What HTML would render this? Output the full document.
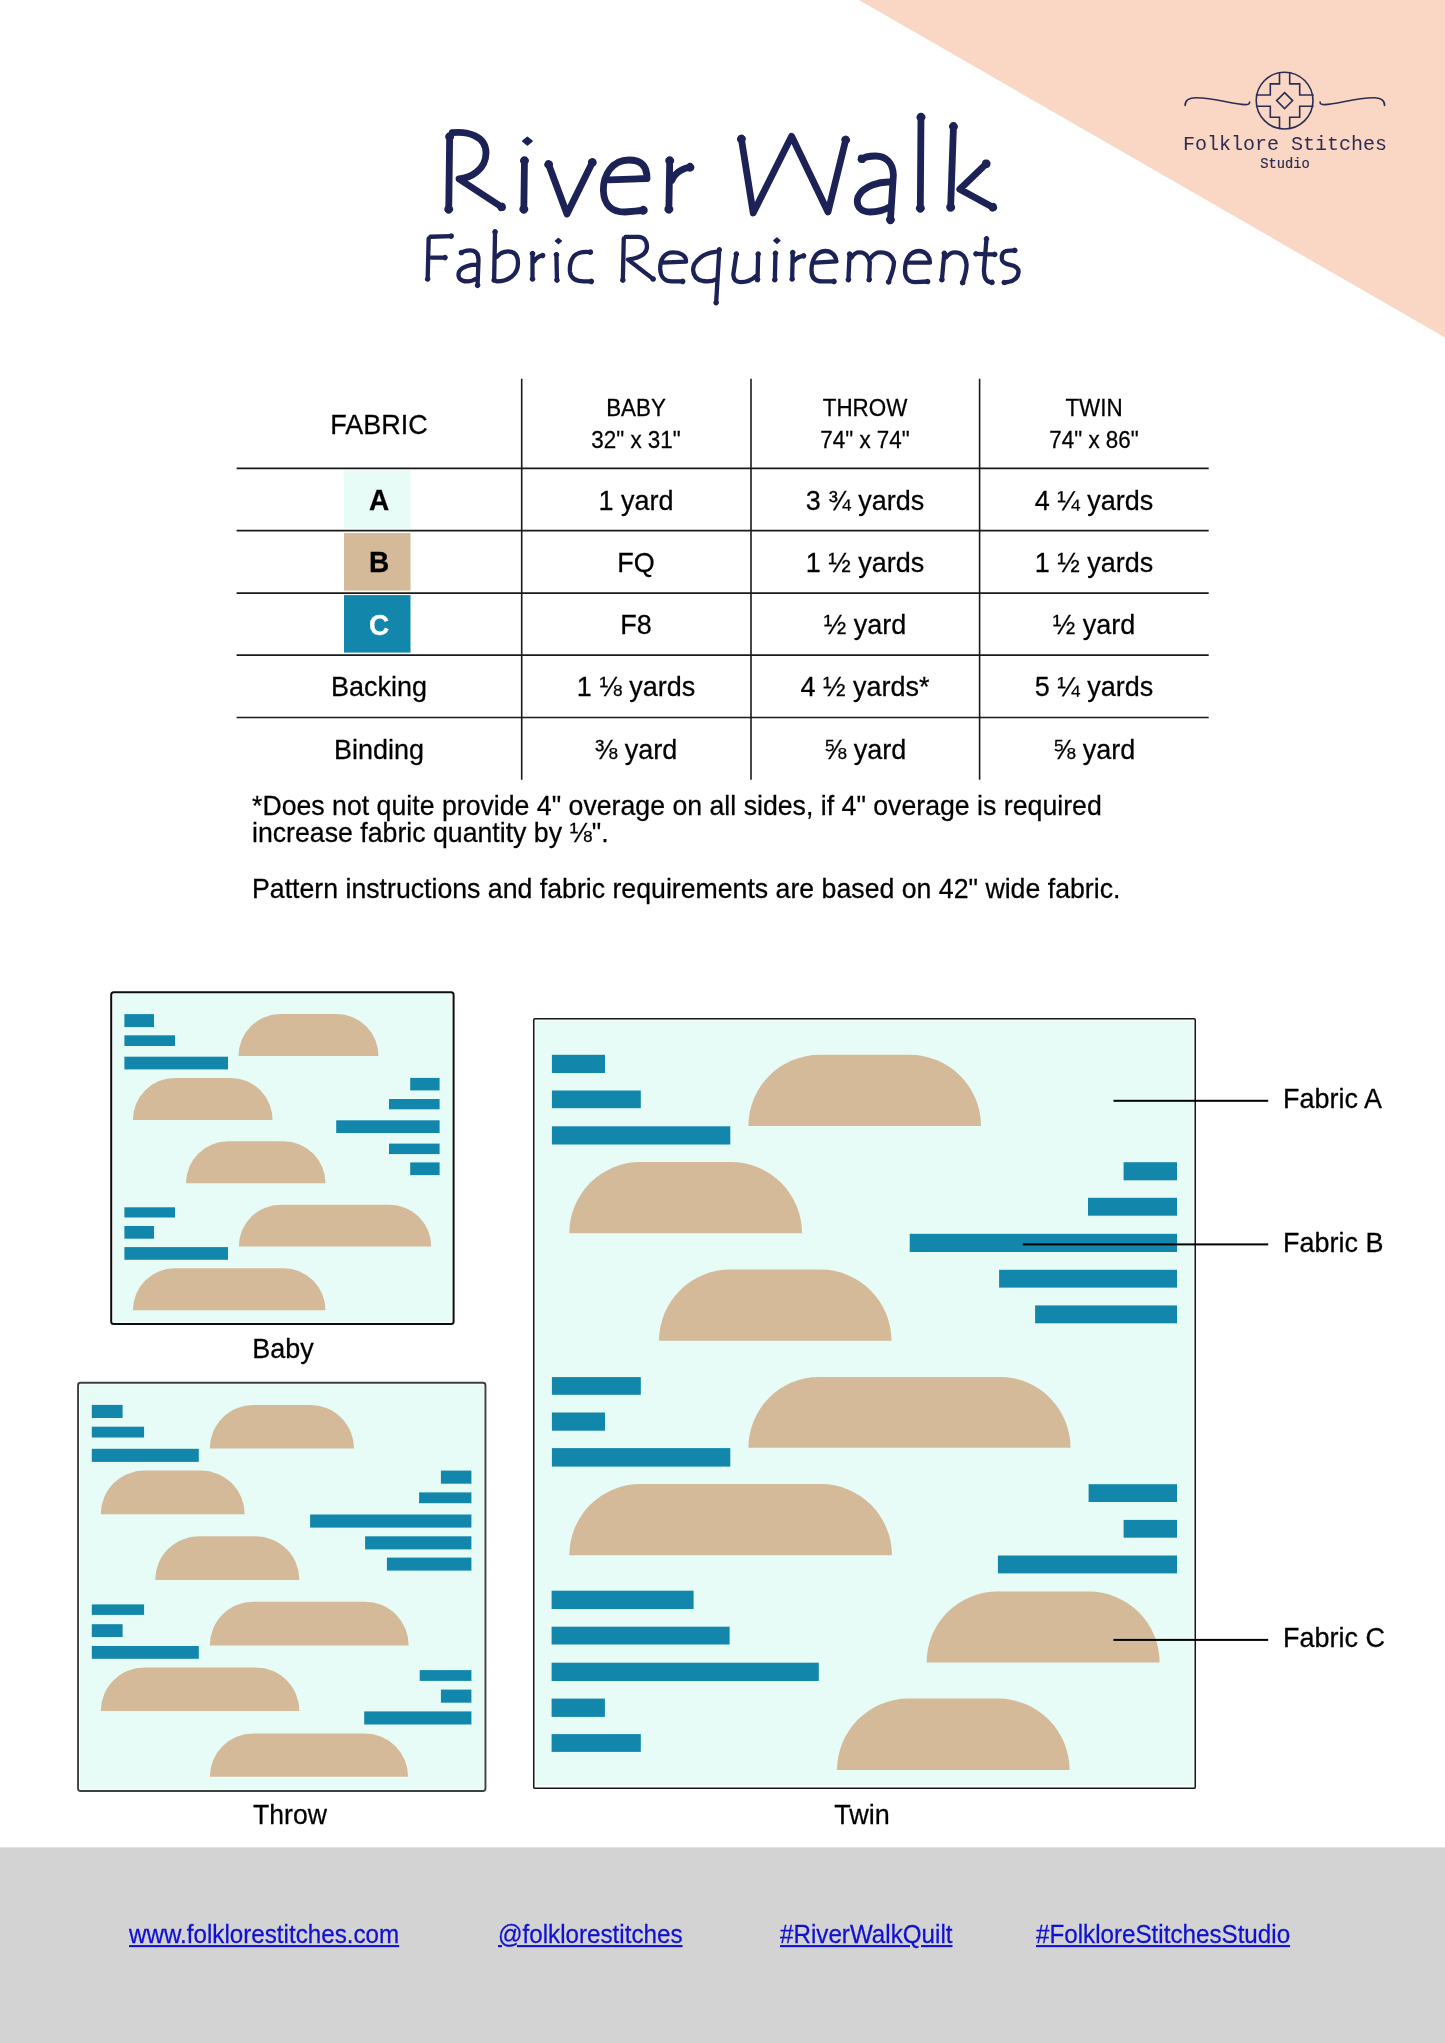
<!DOCTYPE html><html><head><meta charset="utf-8"><title>River Walk Fabric Requirements</title>
<style>html,body{margin:0;padding:0;background:#fff;}body{width:1445px;height:2043px;position:relative;overflow:hidden;}
div{will-change:transform;}
a{color:inherit;text-decoration:underline;}</style></head><body>
<svg style="position:absolute;left:0;top:0" width="1445" height="400"><polygon points="859,0 1445,0 1445,337.5" fill="#fad6c5"/></svg>
<svg style="position:absolute;left:1170px;top:60px" width="230" height="80" viewBox="0 0 230 80">
<g fill="none" stroke="#2b2e52" stroke-width="1.6" stroke-linecap="round" stroke-linejoin="miter">
<circle cx="114.6" cy="40.6" r="28.4"/>
<path d="M109.5 12.7 V23.9 H100.3 V35 H86.6 M119.7 12.7 V23.9 H129.7 V35 H143 M109.5 68.5 V57.3 H100.3 V46.2 H86.6 M119.7 68.5 V57.3 H129.7 V46.2 H143"/>
<path d="M114.6 32.6 L122.6 40.6 L114.6 48.6 L106.6 40.6 Z"/>
<path d="M15.1 45.4 C15 40 20 37.5 26 37.7 C45 38 62 44 75 44.6 C78 44.7 79.8 44 79.6 42"/>
<path d="M214.6 45.4 C214.7 40 209.7 37.5 203.7 37.7 C184.7 38 167.7 44 154.7 44.6 C151.7 44.7 149.9 44 150.1 42"/>
</g></svg>
<div style="position:absolute;top:135.20px;font-family:'Liberation Mono',monospace;font-size:20px;line-height:20px;font-weight:400;color:#2b2e52;white-space:pre;left:884.80px;width:800px;text-align:center;">Folklore Stitches</div>
<div style="position:absolute;top:158.47px;font-family:'Liberation Mono',monospace;font-size:13.8px;line-height:13.8px;font-weight:400;color:#2b2e52;white-space:pre;-webkit-text-stroke:0.2px #2b2e52;left:884.60px;width:800px;text-align:center;">Studio</div>
<svg style="position:absolute;left:0;top:0" width="1445" height="330"><g fill="none" stroke="#1c2255" stroke-linecap="round" stroke-linejoin="round"><path stroke-width="6.8" d="M449.67,135.72 L448.73,210.28 M452.20,132.71 C468.00,131.00 486.00,136.00 486.00,153.00 C486.00,170.00 470.00,178.00 459.00,179.00 L502.43,207.51 M524.47,159.72 L523.83,210.28 M548.25,163.55 L567.00,214.00 L592.80,161.44 M609.22,179.90 L647.00,178.50 C647.00,165.00 640.00,160.00 629.00,160.00 C612.00,160.00 603.00,175.00 603.40,191.00 C604.00,205.00 612.00,212.00 625.00,212.00 L644.29,210.25 M669.75,159.72 L668.85,210.28 M671.77,180.46 C675.00,172.00 685.00,167.00 690.98,167.34 M741.23,137.99 L753.20,213.00 L791.60,136.30 L828.00,212.00 L845.95,138.94 M861.17,159.43 C864.00,157.00 870.00,156.00 875.70,156.00 C886.00,156.00 893.00,163.00 893.40,175.00 L890.38,220.79 M892.29,182.23 C880.00,181.00 863.00,186.00 858.00,197.00 C855.00,207.00 862.00,212.00 870.00,212.00 C880.00,212.00 888.00,208.00 890.67,206.40 M920.98,116.22 L920.32,209.28 M953.50,125.52 L950.60,208.28 M986.94,163.09 L959.80,189.30 L993.71,207.70"/><path stroke-width="4.3" d="M428.66,238.52 L427.64,279.68 M430.42,236.74 L451.88,236.06 M431.42,257.60 L445.68,257.60 M460.98,253.15 C463.00,251.00 467.00,250.30 470.20,250.30 C476.00,250.30 478.50,254.00 478.50,260.00 L477.56,285.98 M477.78,264.73 C472.00,264.50 462.00,266.00 459.00,272.00 C457.00,278.00 461.00,281.40 467.00,281.40 C472.00,281.40 476.00,279.00 477.08,278.27 M495.07,231.22 L494.13,280.78 M497.07,256.66 C500.00,253.00 504.00,251.30 508.00,251.30 C515.00,251.30 518.00,256.00 518.00,263.00 C518.00,275.00 508.00,281.40 496.72,281.40 M532.50,253.02 L532.50,279.68 M534.31,261.18 C536.00,258.00 540.00,255.50 543.28,255.50 M556.43,254.12 L556.97,280.78 M590.99,252.20 C585.00,251.50 578.00,252.00 574.00,256.00 C570.00,261.00 569.50,267.00 570.00,272.00 C571.00,279.00 577.00,281.40 584.00,281.40 L591.98,281.40 M623.76,238.52 L622.84,280.78 M625.52,236.80 L638.40,236.80 C644.00,237.00 647.00,241.00 647.00,246.50 C647.00,254.00 640.00,258.00 628.00,259.60 L653.64,279.35 M661.92,262.63 L686.10,261.70 C686.00,255.00 680.00,252.40 673.00,252.40 C664.00,252.40 660.00,260.00 660.20,269.00 C660.50,277.00 665.00,281.40 672.00,281.40 L683.38,281.40 M719.30,249.22 L716.10,303.28 M715.69,251.88 C710.00,252.50 704.00,254.00 700.00,258.00 C695.00,262.00 693.00,267.00 693.10,270.00 C693.50,276.00 697.00,280.00 703.00,281.00 C710.00,282.00 715.00,280.00 716.65,278.93 M736.45,253.40 L733.30,274.50 C733.50,280.00 736.00,282.10 741.00,282.10 C748.00,282.10 753.00,279.00 756.28,275.72 M758.16,253.42 L757.54,280.38 M775.46,252.72 L774.84,280.38 M792.76,252.02 L792.14,279.68 M794.40,260.63 C796.00,258.00 801.00,255.80 804.28,255.80 M815.32,262.60 L836.40,261.40 C836.00,255.00 831.00,251.00 825.30,251.00 C816.00,251.00 811.50,260.00 811.50,270.40 C811.50,278.00 815.00,281.40 822.00,281.40 L834.68,281.40 M849.62,253.42 L848.38,280.38 M851.29,257.83 C853.00,255.00 856.00,252.40 859.40,252.40 C865.00,252.40 868.00,255.00 869.80,262.10 L869.16,280.38 M870.83,257.92 C873.00,255.00 876.00,252.40 880.10,252.40 C887.00,252.40 892.00,255.00 894.00,262.10 C894.00,270.00 890.00,278.00 888.38,282.58 M908.12,262.70 L930.00,262.70 C930.00,256.00 925.00,251.00 918.90,251.00 C910.00,251.00 905.00,260.00 905.00,270.40 C905.00,278.00 909.00,282.10 915.00,282.10 L928.28,281.48 M944.35,252.71 L941.85,280.39 M946.26,257.24 C948.00,255.00 951.00,252.40 954.90,252.40 C961.00,252.40 966.00,256.00 966.60,264.80 C966.50,272.00 964.00,279.00 962.40,283.29 M986.56,238.21 L983.90,270.40 C984.00,277.00 986.00,281.40 990.00,282.00 L992.61,282.49 M975.32,253.84 L995.38,254.36 M1015.48,250.37 C1012.00,250.50 1008.00,250.60 1006.10,251.00 C1002.00,252.00 1001.50,256.00 1001.90,259.30 C1002.50,263.00 1006.00,264.00 1010.20,264.80 C1016.00,266.00 1019.00,268.00 1018.50,272.50 C1018.00,278.00 1014.00,281.00 1008.00,282.00 L1003.61,282.58"/></g><g fill="#1c2255"><ellipse transform="translate(449.66,136.74) rotate(-89.3)" rx="3.40" ry="4.49"/><ellipse transform="translate(448.74,209.26) rotate(90.7)" rx="3.40" ry="4.49"/><ellipse transform="translate(501.58,206.95) rotate(33.3)" rx="3.40" ry="4.49"/><ellipse transform="translate(524.46,160.74) rotate(-89.3)" rx="3.40" ry="4.49"/><ellipse transform="translate(523.84,209.26) rotate(90.7)" rx="3.40" ry="4.49"/><ellipse transform="translate(548.61,164.51) rotate(-110.4)" rx="3.40" ry="4.49"/><ellipse transform="translate(592.35,162.36) rotate(-63.9)" rx="3.40" ry="4.49"/><ellipse transform="translate(643.27,210.34) rotate(-5.2)" rx="3.40" ry="4.49"/><ellipse transform="translate(669.73,160.74) rotate(-89.0)" rx="3.40" ry="4.49"/><ellipse transform="translate(668.87,209.26) rotate(91.0)" rx="3.40" ry="4.49"/><ellipse transform="translate(689.96,167.28) rotate(3.3)" rx="3.40" ry="4.49"/><ellipse transform="translate(741.39,139.00) rotate(-99.1)" rx="3.40" ry="4.49"/><ellipse transform="translate(845.71,139.93) rotate(-76.2)" rx="3.40" ry="4.49"/><ellipse transform="translate(861.94,158.77) rotate(139.3)" rx="3.40" ry="4.49"/><ellipse transform="translate(890.45,219.77) rotate(93.8)" rx="3.40" ry="4.49"/><ellipse transform="translate(920.97,117.24) rotate(-89.6)" rx="3.40" ry="4.49"/><ellipse transform="translate(920.33,208.26) rotate(90.4)" rx="3.40" ry="4.49"/><ellipse transform="translate(953.46,126.54) rotate(-88.0)" rx="3.40" ry="4.49"/><ellipse transform="translate(950.64,207.26) rotate(92.0)" rx="3.40" ry="4.49"/><ellipse transform="translate(986.21,163.80) rotate(-44.0)" rx="3.40" ry="4.49"/><ellipse transform="translate(992.81,207.21) rotate(28.5)" rx="3.40" ry="4.49"/><ellipse transform="translate(427.66,279.04) rotate(91.4)" rx="2.15" ry="2.84"/><ellipse transform="translate(451.24,236.08) rotate(-1.8)" rx="2.15" ry="2.84"/><ellipse transform="translate(445.04,257.60) rotate(0.0)" rx="2.15" ry="2.84"/><ellipse transform="translate(461.42,252.68) rotate(133.2)" rx="2.15" ry="2.84"/><ellipse transform="translate(477.58,285.34) rotate(92.1)" rx="2.15" ry="2.84"/><ellipse transform="translate(495.06,231.86) rotate(-88.9)" rx="2.15" ry="2.84"/><ellipse transform="translate(494.14,280.14) rotate(91.1)" rx="2.15" ry="2.84"/><ellipse transform="translate(532.50,253.67) rotate(-90.0)" rx="2.15" ry="2.84"/><ellipse transform="translate(532.50,279.04) rotate(90.0)" rx="2.15" ry="2.84"/><ellipse transform="translate(542.63,255.50) rotate(0.0)" rx="2.15" ry="2.84"/><ellipse transform="translate(556.44,254.76) rotate(-91.2)" rx="2.15" ry="2.84"/><ellipse transform="translate(556.96,280.14) rotate(88.8)" rx="2.15" ry="2.84"/><ellipse transform="translate(590.35,252.13) rotate(6.7)" rx="2.15" ry="2.84"/><ellipse transform="translate(591.34,281.40) rotate(0.0)" rx="2.15" ry="2.84"/><ellipse transform="translate(622.85,280.14) rotate(91.2)" rx="2.15" ry="2.84"/><ellipse transform="translate(653.13,278.96) rotate(37.6)" rx="2.15" ry="2.84"/><ellipse transform="translate(682.74,281.40) rotate(0.0)" rx="2.15" ry="2.84"/><ellipse transform="translate(719.26,249.86) rotate(-86.6)" rx="2.15" ry="2.84"/><ellipse transform="translate(716.14,302.64) rotate(93.4)" rx="2.15" ry="2.84"/><ellipse transform="translate(736.35,254.04) rotate(-81.5)" rx="2.15" ry="2.84"/><ellipse transform="translate(758.15,254.06) rotate(-88.7)" rx="2.15" ry="2.84"/><ellipse transform="translate(757.55,279.74) rotate(91.3)" rx="2.15" ry="2.84"/><ellipse transform="translate(775.45,253.36) rotate(-88.7)" rx="2.15" ry="2.84"/><ellipse transform="translate(774.85,279.74) rotate(91.3)" rx="2.15" ry="2.84"/><ellipse transform="translate(792.75,252.66) rotate(-88.7)" rx="2.15" ry="2.84"/><ellipse transform="translate(792.15,279.04) rotate(91.3)" rx="2.15" ry="2.84"/><ellipse transform="translate(803.63,255.80) rotate(0.0)" rx="2.15" ry="2.84"/><ellipse transform="translate(834.03,281.40) rotate(0.0)" rx="2.15" ry="2.84"/><ellipse transform="translate(849.59,254.06) rotate(-87.4)" rx="2.15" ry="2.84"/><ellipse transform="translate(848.41,279.74) rotate(92.6)" rx="2.15" ry="2.84"/><ellipse transform="translate(869.18,279.74) rotate(92.0)" rx="2.15" ry="2.84"/><ellipse transform="translate(888.60,281.97) rotate(109.5)" rx="2.15" ry="2.84"/><ellipse transform="translate(927.64,281.51) rotate(-2.7)" rx="2.15" ry="2.84"/><ellipse transform="translate(944.29,253.35) rotate(-84.8)" rx="2.15" ry="2.84"/><ellipse transform="translate(941.91,279.75) rotate(95.2)" rx="2.15" ry="2.84"/><ellipse transform="translate(962.63,282.69) rotate(110.5)" rx="2.15" ry="2.84"/><ellipse transform="translate(986.51,238.85) rotate(-85.3)" rx="2.15" ry="2.84"/><ellipse transform="translate(991.98,282.37) rotate(10.6)" rx="2.15" ry="2.84"/><ellipse transform="translate(975.96,253.86) rotate(-178.5)" rx="2.15" ry="2.84"/><ellipse transform="translate(994.74,254.34) rotate(1.5)" rx="2.15" ry="2.84"/><ellipse transform="translate(1014.84,250.39) rotate(-2.1)" rx="2.15" ry="2.84"/><ellipse transform="translate(1004.25,282.50) rotate(172.5)" rx="2.15" ry="2.84"/><path d="M522.80,141.20 L527.40,137.40 L532.00,141.20 L527.40,145.00 Z" stroke="#1c2255" stroke-width="1.6" stroke-linejoin="round"/><path d="M555.50,241.00 L558.40,238.50 L561.30,241.00 L558.40,243.50 Z" stroke="#1c2255" stroke-width="1.6" stroke-linejoin="round"/><path d="M774.00,240.60 L776.90,238.10 L779.80,240.60 L776.90,243.10 Z" stroke="#1c2255" stroke-width="1.6" stroke-linejoin="round"/></g></svg>
<svg style="position:absolute;left:0;top:0" width="1445" height="800"><g stroke="#1a1a1a" stroke-width="1.6"><line x1="521.7" y1="378.7" x2="521.7" y2="779.7"/><line x1="751.0" y1="378.7" x2="751.0" y2="779.7"/><line x1="979.6" y1="378.7" x2="979.6" y2="779.7"/><line x1="236.6" y1="468.4" x2="1208.7" y2="468.4"/><line x1="236.6" y1="530.6" x2="1208.7" y2="530.6"/><line x1="236.6" y1="593.1" x2="1208.7" y2="593.1"/><line x1="236.6" y1="655.1" x2="1208.7" y2="655.1"/><line x1="236.6" y1="717.5" x2="1208.7" y2="717.5"/></g></svg>
<div style="position:absolute;top:411.85px;font-family:'Liberation Sans',sans-serif;font-size:27px;line-height:27px;font-weight:400;color:#000;white-space:pre;transform:scaleY(1.04);transform-origin:0 84.65%;-webkit-text-stroke:0.25px #000;left:-20.80px;width:800px;text-align:center;">FABRIC</div>
<div style="position:absolute;top:397.96px;font-family:'Liberation Sans',sans-serif;font-size:22.4px;line-height:22.4px;font-weight:400;color:#000;white-space:pre;transform:scaleY(1.04);transform-origin:0 84.65%;-webkit-text-stroke:0.25px #000;left:236.40px;width:800px;text-align:center;">BABY</div>
<div style="position:absolute;top:429.66px;font-family:'Liberation Sans',sans-serif;font-size:22.4px;line-height:22.4px;font-weight:400;color:#000;white-space:pre;transform:scaleY(1.04);transform-origin:0 84.65%;-webkit-text-stroke:0.25px #000;left:236.40px;width:800px;text-align:center;">32" x 31"</div>
<div style="position:absolute;top:397.96px;font-family:'Liberation Sans',sans-serif;font-size:22.4px;line-height:22.4px;font-weight:400;color:#000;white-space:pre;transform:scaleY(1.04);transform-origin:0 84.65%;-webkit-text-stroke:0.25px #000;left:465.30px;width:800px;text-align:center;">THROW</div>
<div style="position:absolute;top:429.66px;font-family:'Liberation Sans',sans-serif;font-size:22.4px;line-height:22.4px;font-weight:400;color:#000;white-space:pre;transform:scaleY(1.04);transform-origin:0 84.65%;-webkit-text-stroke:0.25px #000;left:465.30px;width:800px;text-align:center;">74" x 74"</div>
<div style="position:absolute;top:397.96px;font-family:'Liberation Sans',sans-serif;font-size:22.4px;line-height:22.4px;font-weight:400;color:#000;white-space:pre;transform:scaleY(1.04);transform-origin:0 84.65%;-webkit-text-stroke:0.25px #000;left:694.20px;width:800px;text-align:center;">TWIN</div>
<div style="position:absolute;top:429.66px;font-family:'Liberation Sans',sans-serif;font-size:22.4px;line-height:22.4px;font-weight:400;color:#000;white-space:pre;transform:scaleY(1.04);transform-origin:0 84.65%;-webkit-text-stroke:0.25px #000;left:694.20px;width:800px;text-align:center;">74" x 86"</div>
<svg style="position:absolute;left:0;top:0;overflow:visible" width="1" height="1"><rect x="344.00" y="470.70" width="66.50" height="57.90" fill="#e7fcf6"/></svg>
<svg style="position:absolute;left:0;top:0;overflow:visible" width="1" height="1"><rect x="344.00" y="533.00" width="66.50" height="57.60" fill="#d4ba99"/></svg>
<svg style="position:absolute;left:0;top:0;overflow:visible" width="1" height="1"><rect x="344.00" y="595.10" width="66.50" height="57.50" fill="#1387ab"/></svg>
<div style="position:absolute;top:487.00px;font-family:'Liberation Sans',sans-serif;font-size:28px;line-height:28px;font-weight:700;color:#000;white-space:pre;transform:scaleY(1.04);transform-origin:0 84.65%;-webkit-text-stroke:0.25px #000;left:-21.00px;width:800px;text-align:center;">A</div>
<div style="position:absolute;top:549.40px;font-family:'Liberation Sans',sans-serif;font-size:28px;line-height:28px;font-weight:700;color:#000;white-space:pre;transform:scaleY(1.04);transform-origin:0 84.65%;-webkit-text-stroke:0.25px #000;left:-21.00px;width:800px;text-align:center;">B</div>
<div style="position:absolute;top:611.50px;font-family:'Liberation Sans',sans-serif;font-size:28px;line-height:28px;font-weight:700;color:#fff;white-space:pre;transform:scaleY(1.04);transform-origin:0 84.65%;-webkit-text-stroke:0.25px #fff;left:-21.00px;width:800px;text-align:center;">C</div>
<div style="position:absolute;top:487.55px;font-family:'Liberation Sans',sans-serif;font-size:27px;line-height:27px;font-weight:400;color:#000;white-space:pre;transform:scaleY(1.04);transform-origin:0 84.65%;-webkit-text-stroke:0.25px #000;left:236.40px;width:800px;text-align:center;">1 yard</div>
<div style="position:absolute;top:487.55px;font-family:'Liberation Sans',sans-serif;font-size:27px;line-height:27px;font-weight:400;color:#000;white-space:pre;transform:scaleY(1.04);transform-origin:0 84.65%;-webkit-text-stroke:0.25px #000;left:465.30px;width:800px;text-align:center;">3 ¾ yards</div>
<div style="position:absolute;top:487.55px;font-family:'Liberation Sans',sans-serif;font-size:27px;line-height:27px;font-weight:400;color:#000;white-space:pre;transform:scaleY(1.04);transform-origin:0 84.65%;-webkit-text-stroke:0.25px #000;left:694.20px;width:800px;text-align:center;">4 ¼ yards</div>
<div style="position:absolute;top:549.95px;font-family:'Liberation Sans',sans-serif;font-size:27px;line-height:27px;font-weight:400;color:#000;white-space:pre;transform:scaleY(1.04);transform-origin:0 84.65%;-webkit-text-stroke:0.25px #000;left:236.40px;width:800px;text-align:center;">FQ</div>
<div style="position:absolute;top:549.95px;font-family:'Liberation Sans',sans-serif;font-size:27px;line-height:27px;font-weight:400;color:#000;white-space:pre;transform:scaleY(1.04);transform-origin:0 84.65%;-webkit-text-stroke:0.25px #000;left:465.30px;width:800px;text-align:center;">1 ½ yards</div>
<div style="position:absolute;top:549.95px;font-family:'Liberation Sans',sans-serif;font-size:27px;line-height:27px;font-weight:400;color:#000;white-space:pre;transform:scaleY(1.04);transform-origin:0 84.65%;-webkit-text-stroke:0.25px #000;left:694.20px;width:800px;text-align:center;">1 ½ yards</div>
<div style="position:absolute;top:611.95px;font-family:'Liberation Sans',sans-serif;font-size:27px;line-height:27px;font-weight:400;color:#000;white-space:pre;transform:scaleY(1.04);transform-origin:0 84.65%;-webkit-text-stroke:0.25px #000;left:236.40px;width:800px;text-align:center;">F8</div>
<div style="position:absolute;top:611.95px;font-family:'Liberation Sans',sans-serif;font-size:27px;line-height:27px;font-weight:400;color:#000;white-space:pre;transform:scaleY(1.04);transform-origin:0 84.65%;-webkit-text-stroke:0.25px #000;left:465.30px;width:800px;text-align:center;">½ yard</div>
<div style="position:absolute;top:611.95px;font-family:'Liberation Sans',sans-serif;font-size:27px;line-height:27px;font-weight:400;color:#000;white-space:pre;transform:scaleY(1.04);transform-origin:0 84.65%;-webkit-text-stroke:0.25px #000;left:694.20px;width:800px;text-align:center;">½ yard</div>
<div style="position:absolute;top:674.25px;font-family:'Liberation Sans',sans-serif;font-size:27px;line-height:27px;font-weight:400;color:#000;white-space:pre;transform:scaleY(1.04);transform-origin:0 84.65%;-webkit-text-stroke:0.25px #000;left:236.40px;width:800px;text-align:center;">1 ⅛ yards</div>
<div style="position:absolute;top:674.25px;font-family:'Liberation Sans',sans-serif;font-size:27px;line-height:27px;font-weight:400;color:#000;white-space:pre;transform:scaleY(1.04);transform-origin:0 84.65%;-webkit-text-stroke:0.25px #000;left:465.30px;width:800px;text-align:center;">4 ½ yards*</div>
<div style="position:absolute;top:674.25px;font-family:'Liberation Sans',sans-serif;font-size:27px;line-height:27px;font-weight:400;color:#000;white-space:pre;transform:scaleY(1.04);transform-origin:0 84.65%;-webkit-text-stroke:0.25px #000;left:694.20px;width:800px;text-align:center;">5 ¼ yards</div>
<div style="position:absolute;top:736.85px;font-family:'Liberation Sans',sans-serif;font-size:27px;line-height:27px;font-weight:400;color:#000;white-space:pre;transform:scaleY(1.04);transform-origin:0 84.65%;-webkit-text-stroke:0.25px #000;left:236.40px;width:800px;text-align:center;">⅜ yard</div>
<div style="position:absolute;top:736.85px;font-family:'Liberation Sans',sans-serif;font-size:27px;line-height:27px;font-weight:400;color:#000;white-space:pre;transform:scaleY(1.04);transform-origin:0 84.65%;-webkit-text-stroke:0.25px #000;left:465.30px;width:800px;text-align:center;">⅝ yard</div>
<div style="position:absolute;top:736.85px;font-family:'Liberation Sans',sans-serif;font-size:27px;line-height:27px;font-weight:400;color:#000;white-space:pre;transform:scaleY(1.04);transform-origin:0 84.65%;-webkit-text-stroke:0.25px #000;left:694.20px;width:800px;text-align:center;">⅝ yard</div>
<div style="position:absolute;top:674.25px;font-family:'Liberation Sans',sans-serif;font-size:27px;line-height:27px;font-weight:400;color:#000;white-space:pre;transform:scaleY(1.04);transform-origin:0 84.65%;-webkit-text-stroke:0.25px #000;left:-20.80px;width:800px;text-align:center;">Backing</div>
<div style="position:absolute;top:736.85px;font-family:'Liberation Sans',sans-serif;font-size:27px;line-height:27px;font-weight:400;color:#000;white-space:pre;transform:scaleY(1.04);transform-origin:0 84.65%;-webkit-text-stroke:0.25px #000;left:-20.80px;width:800px;text-align:center;">Binding</div>
<div style="position:absolute;top:793.20px;font-family:'Liberation Sans',sans-serif;font-size:26.7px;line-height:26.7px;font-weight:400;color:#000;white-space:pre;transform:scaleY(1.04);transform-origin:0 84.65%;-webkit-text-stroke:0.25px #000;left:252.30px;">*Does not quite provide 4" overage on all sides, if 4" overage is required</div>
<div style="position:absolute;top:820.30px;font-family:'Liberation Sans',sans-serif;font-size:26.7px;line-height:26.7px;font-weight:400;color:#000;white-space:pre;transform:scaleY(1.04);transform-origin:0 84.65%;-webkit-text-stroke:0.25px #000;left:252.30px;">increase fabric quantity by ⅛".</div>
<div style="position:absolute;top:876.20px;font-family:'Liberation Sans',sans-serif;font-size:26.7px;line-height:26.7px;font-weight:400;color:#000;white-space:pre;transform:scaleY(1.04);transform-origin:0 84.65%;-webkit-text-stroke:0.25px #000;left:252.30px;">Pattern instructions and fabric requirements are based on 42" wide fabric.</div>
<svg style="position:absolute;left:0;top:0" width="1445" height="2043"><rect x="113.10" y="994.10" width="338.60" height="328.10" fill="#e7fcf6"/><rect x="111.20" y="992.20" width="342.40" height="331.90" rx="2.5" fill="none" stroke="#0d0d0d" stroke-width="2"/></svg>
<svg style="position:absolute;left:0;top:0;overflow:visible" width="1" height="1"><rect x="124.40" y="1014.10" width="29.60" height="13.00" fill="#1387ab"/></svg>
<svg style="position:absolute;left:0;top:0;overflow:visible" width="1" height="1"><rect x="124.40" y="1035.30" width="50.60" height="10.70" fill="#1387ab"/></svg>
<svg style="position:absolute;left:0;top:0;overflow:visible" width="1" height="1"><rect x="124.40" y="1056.70" width="103.60" height="12.70" fill="#1387ab"/></svg>
<svg style="position:absolute;left:0;top:0;overflow:visible" width="1" height="1"><rect x="410.20" y="1077.90" width="29.40" height="12.50" fill="#1387ab"/></svg>
<svg style="position:absolute;left:0;top:0;overflow:visible" width="1" height="1"><rect x="389.00" y="1099.00" width="50.60" height="10.30" fill="#1387ab"/></svg>
<svg style="position:absolute;left:0;top:0;overflow:visible" width="1" height="1"><rect x="336.20" y="1120.30" width="103.40" height="12.70" fill="#1387ab"/></svg>
<svg style="position:absolute;left:0;top:0;overflow:visible" width="1" height="1"><rect x="389.00" y="1143.60" width="50.60" height="10.50" fill="#1387ab"/></svg>
<svg style="position:absolute;left:0;top:0;overflow:visible" width="1" height="1"><rect x="410.20" y="1162.40" width="29.40" height="12.70" fill="#1387ab"/></svg>
<svg style="position:absolute;left:0;top:0;overflow:visible" width="1" height="1"><rect x="124.40" y="1207.30" width="50.60" height="10.20" fill="#1387ab"/></svg>
<svg style="position:absolute;left:0;top:0;overflow:visible" width="1" height="1"><rect x="124.40" y="1226.00" width="29.60" height="12.70" fill="#1387ab"/></svg>
<svg style="position:absolute;left:0;top:0;overflow:visible" width="1" height="1"><rect x="124.40" y="1247.10" width="103.60" height="12.70" fill="#1387ab"/></svg>
<svg style="position:absolute;left:0;top:0;overflow:visible" width="1" height="1"><path d="M238.50,1056.00 A41.90,41.90 0 0 1 280.40,1014.10 L336.60,1014.10 A41.90,41.90 0 0 1 378.50,1056.00 Z" fill="#d4ba99"/></svg>
<svg style="position:absolute;left:0;top:0;overflow:visible" width="1" height="1"><path d="M132.90,1120.00 A42.10,42.10 0 0 1 175.00,1077.90 L230.50,1077.90 A42.10,42.10 0 0 1 272.60,1120.00 Z" fill="#d4ba99"/></svg>
<svg style="position:absolute;left:0;top:0;overflow:visible" width="1" height="1"><path d="M186.00,1183.30 A42.00,42.00 0 0 1 228.00,1141.30 L283.50,1141.30 A42.00,42.00 0 0 1 325.50,1183.30 Z" fill="#d4ba99"/></svg>
<svg style="position:absolute;left:0;top:0;overflow:visible" width="1" height="1"><path d="M238.80,1246.60 A41.80,41.80 0 0 1 280.60,1204.80 L389.50,1204.80 A41.80,41.80 0 0 1 431.30,1246.60 Z" fill="#d4ba99"/></svg>
<svg style="position:absolute;left:0;top:0;overflow:visible" width="1" height="1"><path d="M132.90,1310.20 A41.90,41.90 0 0 1 174.80,1268.30 L283.60,1268.30 A41.90,41.90 0 0 1 325.50,1310.20 Z" fill="#d4ba99"/></svg>
<div style="position:absolute;top:1335.55px;font-family:'Liberation Sans',sans-serif;font-size:27px;line-height:27px;font-weight:400;color:#000;white-space:pre;transform:scaleY(1.04);transform-origin:0 84.65%;-webkit-text-stroke:0.25px #000;left:-117.20px;width:800px;text-align:center;">Baby</div>
<svg style="position:absolute;left:0;top:0" width="1445" height="2043"><rect x="79.90" y="1384.60" width="403.70" height="404.50" fill="#e7fcf6"/><rect x="78.05" y="1382.75" width="407.40" height="408.20" rx="2.5" fill="none" stroke="#3b4040" stroke-width="1.9"/></svg>
<svg style="position:absolute;left:0;top:0;overflow:visible" width="1" height="1"><rect x="91.80" y="1404.90" width="30.80" height="13.10" fill="#1387ab"/></svg>
<svg style="position:absolute;left:0;top:0;overflow:visible" width="1" height="1"><rect x="91.80" y="1426.70" width="52.30" height="10.80" fill="#1387ab"/></svg>
<svg style="position:absolute;left:0;top:0;overflow:visible" width="1" height="1"><rect x="91.80" y="1448.80" width="107.00" height="13.10" fill="#1387ab"/></svg>
<svg style="position:absolute;left:0;top:0;overflow:visible" width="1" height="1"><rect x="440.90" y="1470.60" width="30.50" height="13.10" fill="#1387ab"/></svg>
<svg style="position:absolute;left:0;top:0;overflow:visible" width="1" height="1"><rect x="419.10" y="1492.40" width="52.30" height="10.80" fill="#1387ab"/></svg>
<svg style="position:absolute;left:0;top:0;overflow:visible" width="1" height="1"><rect x="310.10" y="1514.50" width="161.30" height="13.10" fill="#1387ab"/></svg>
<svg style="position:absolute;left:0;top:0;overflow:visible" width="1" height="1"><rect x="365.10" y="1536.30" width="106.30" height="13.10" fill="#1387ab"/></svg>
<svg style="position:absolute;left:0;top:0;overflow:visible" width="1" height="1"><rect x="386.90" y="1557.60" width="84.50" height="13.00" fill="#1387ab"/></svg>
<svg style="position:absolute;left:0;top:0;overflow:visible" width="1" height="1"><rect x="91.80" y="1604.40" width="52.30" height="10.50" fill="#1387ab"/></svg>
<svg style="position:absolute;left:0;top:0;overflow:visible" width="1" height="1"><rect x="91.80" y="1624.20" width="30.80" height="12.80" fill="#1387ab"/></svg>
<svg style="position:absolute;left:0;top:0;overflow:visible" width="1" height="1"><rect x="91.80" y="1646.00" width="107.00" height="12.80" fill="#1387ab"/></svg>
<svg style="position:absolute;left:0;top:0;overflow:visible" width="1" height="1"><rect x="419.70" y="1670.10" width="51.70" height="10.80" fill="#1387ab"/></svg>
<svg style="position:absolute;left:0;top:0;overflow:visible" width="1" height="1"><rect x="440.90" y="1689.60" width="30.50" height="13.10" fill="#1387ab"/></svg>
<svg style="position:absolute;left:0;top:0;overflow:visible" width="1" height="1"><rect x="364.20" y="1711.40" width="107.20" height="13.10" fill="#1387ab"/></svg>
<svg style="position:absolute;left:0;top:0;overflow:visible" width="1" height="1"><path d="M209.80,1448.50 A43.60,43.60 0 0 1 253.40,1404.90 L310.40,1404.90 A43.60,43.60 0 0 1 354.00,1448.50 Z" fill="#d4ba99"/></svg>
<svg style="position:absolute;left:0;top:0;overflow:visible" width="1" height="1"><path d="M100.80,1514.20 A43.60,43.60 0 0 1 144.40,1470.60 L201.10,1470.60 A43.60,43.60 0 0 1 244.70,1514.20 Z" fill="#d4ba99"/></svg>
<svg style="position:absolute;left:0;top:0;overflow:visible" width="1" height="1"><path d="M155.20,1580.00 A43.70,43.70 0 0 1 198.90,1536.30 L255.70,1536.30 A43.70,43.70 0 0 1 299.40,1580.00 Z" fill="#d4ba99"/></svg>
<svg style="position:absolute;left:0;top:0;overflow:visible" width="1" height="1"><path d="M209.80,1645.40 A43.60,43.60 0 0 1 253.40,1601.80 L365.10,1601.80 A43.60,43.60 0 0 1 408.70,1645.40 Z" fill="#d4ba99"/></svg>
<svg style="position:absolute;left:0;top:0;overflow:visible" width="1" height="1"><path d="M100.80,1711.10 A43.60,43.60 0 0 1 144.40,1667.50 L255.80,1667.50 A43.60,43.60 0 0 1 299.40,1711.10 Z" fill="#d4ba99"/></svg>
<svg style="position:absolute;left:0;top:0;overflow:visible" width="1" height="1"><path d="M209.80,1776.80 A43.30,43.30 0 0 1 253.10,1733.50 L364.80,1733.50 A43.30,43.30 0 0 1 408.10,1776.80 Z" fill="#d4ba99"/></svg>
<div style="position:absolute;top:1801.59px;font-family:'Liberation Sans',sans-serif;font-size:26.6px;line-height:26.6px;font-weight:400;color:#000;white-space:pre;transform:scaleY(1.04);transform-origin:0 84.65%;-webkit-text-stroke:0.25px #000;left:-110.50px;width:800px;text-align:center;">Throw</div>
<div style="position:absolute;left:533px;top:1018px;width:663px;height:770px;background:#e7fcf6;box-shadow:inset 0 0 0 2.5px #fff;"></div>
<svg style="position:absolute;left:0;top:0" width="1445" height="2043"><rect x="533.75" y="1018.75" width="661.5" height="769.6" rx="1.2" fill="none" stroke="#151515" stroke-width="1.5"/></svg>
<svg style="position:absolute;left:0;top:0;overflow:visible" width="1" height="1"><rect x="551.90" y="1054.80" width="53.10" height="18.20" fill="#1387ab"/></svg>
<svg style="position:absolute;left:0;top:0;overflow:visible" width="1" height="1"><rect x="551.90" y="1090.50" width="88.90" height="17.70" fill="#1387ab"/></svg>
<svg style="position:absolute;left:0;top:0;overflow:visible" width="1" height="1"><rect x="551.90" y="1126.30" width="178.40" height="18.20" fill="#1387ab"/></svg>
<svg style="position:absolute;left:0;top:0;overflow:visible" width="1" height="1"><rect x="1123.60" y="1162.20" width="53.40" height="18.10" fill="#1387ab"/></svg>
<svg style="position:absolute;left:0;top:0;overflow:visible" width="1" height="1"><rect x="1088.00" y="1197.80" width="89.00" height="17.90" fill="#1387ab"/></svg>
<svg style="position:absolute;left:0;top:0;overflow:visible" width="1" height="1"><rect x="909.70" y="1233.80" width="267.30" height="18.20" fill="#1387ab"/></svg>
<svg style="position:absolute;left:0;top:0;overflow:visible" width="1" height="1"><rect x="999.10" y="1269.80" width="177.90" height="17.80" fill="#1387ab"/></svg>
<svg style="position:absolute;left:0;top:0;overflow:visible" width="1" height="1"><rect x="1035.10" y="1305.40" width="141.90" height="17.90" fill="#1387ab"/></svg>
<svg style="position:absolute;left:0;top:0;overflow:visible" width="1" height="1"><rect x="551.90" y="1377.10" width="88.90" height="17.70" fill="#1387ab"/></svg>
<svg style="position:absolute;left:0;top:0;overflow:visible" width="1" height="1"><rect x="551.90" y="1412.50" width="53.10" height="18.20" fill="#1387ab"/></svg>
<svg style="position:absolute;left:0;top:0;overflow:visible" width="1" height="1"><rect x="551.90" y="1448.10" width="178.40" height="18.50" fill="#1387ab"/></svg>
<svg style="position:absolute;left:0;top:0;overflow:visible" width="1" height="1"><rect x="1088.60" y="1484.20" width="88.40" height="17.80" fill="#1387ab"/></svg>
<svg style="position:absolute;left:0;top:0;overflow:visible" width="1" height="1"><rect x="1123.60" y="1519.90" width="53.40" height="17.80" fill="#1387ab"/></svg>
<svg style="position:absolute;left:0;top:0;overflow:visible" width="1" height="1"><rect x="997.90" y="1555.50" width="179.10" height="17.90" fill="#1387ab"/></svg>
<svg style="position:absolute;left:0;top:0;overflow:visible" width="1" height="1"><rect x="551.60" y="1590.70" width="142.00" height="18.30" fill="#1387ab"/></svg>
<svg style="position:absolute;left:0;top:0;overflow:visible" width="1" height="1"><rect x="551.60" y="1626.70" width="178.00" height="17.80" fill="#1387ab"/></svg>
<svg style="position:absolute;left:0;top:0;overflow:visible" width="1" height="1"><rect x="551.60" y="1662.70" width="267.20" height="18.30" fill="#1387ab"/></svg>
<svg style="position:absolute;left:0;top:0;overflow:visible" width="1" height="1"><rect x="551.60" y="1698.60" width="53.30" height="18.30" fill="#1387ab"/></svg>
<svg style="position:absolute;left:0;top:0;overflow:visible" width="1" height="1"><rect x="551.60" y="1734.10" width="89.20" height="17.80" fill="#1387ab"/></svg>
<svg style="position:absolute;left:0;top:0;overflow:visible" width="1" height="1"><path d="M748.40,1126.00 A71.20,71.20 0 0 1 819.60,1054.80 L909.80,1054.80 A71.20,71.20 0 0 1 981.00,1126.00 Z" fill="#d4ba99"/></svg>
<svg style="position:absolute;left:0;top:0;overflow:visible" width="1" height="1"><path d="M569.30,1233.20 A71.20,71.20 0 0 1 640.50,1162.00 L730.80,1162.00 A71.20,71.20 0 0 1 802.00,1233.20 Z" fill="#d4ba99"/></svg>
<svg style="position:absolute;left:0;top:0;overflow:visible" width="1" height="1"><path d="M659.00,1340.80 A71.30,71.30 0 0 1 730.30,1269.50 L820.20,1269.50 A71.30,71.30 0 0 1 891.50,1340.80 Z" fill="#d4ba99"/></svg>
<svg style="position:absolute;left:0;top:0;overflow:visible" width="1" height="1"><path d="M748.40,1447.80 A70.90,70.90 0 0 1 819.30,1376.90 L999.60,1376.90 A70.90,70.90 0 0 1 1070.50,1447.80 Z" fill="#d4ba99"/></svg>
<svg style="position:absolute;left:0;top:0;overflow:visible" width="1" height="1"><path d="M569.30,1555.20 A71.20,71.20 0 0 1 640.50,1484.00 L820.70,1484.00 A71.20,71.20 0 0 1 891.90,1555.20 Z" fill="#d4ba99"/></svg>
<svg style="position:absolute;left:0;top:0;overflow:visible" width="1" height="1"><path d="M926.60,1662.50 A71.00,71.00 0 0 1 997.60,1591.50 L1088.60,1591.50 A71.00,71.00 0 0 1 1159.60,1662.50 Z" fill="#d4ba99"/></svg>
<svg style="position:absolute;left:0;top:0;overflow:visible" width="1" height="1"><path d="M837.00,1770.10 A71.50,71.50 0 0 1 908.50,1698.60 L998.10,1698.60 A71.50,71.50 0 0 1 1069.60,1770.10 Z" fill="#d4ba99"/></svg>
<div style="position:absolute;top:1801.55px;font-family:'Liberation Sans',sans-serif;font-size:27px;line-height:27px;font-weight:400;color:#000;white-space:pre;transform:scaleY(1.04);transform-origin:0 84.65%;-webkit-text-stroke:0.25px #000;left:462.00px;width:800px;text-align:center;">Twin</div>
<svg style="position:absolute;left:0;top:0;overflow:visible" width="1" height="1"><rect x="1113.50" y="1099.80" width="154.70" height="2.00" fill="#000"/></svg>
<svg style="position:absolute;left:0;top:0;overflow:visible" width="1" height="1"><rect x="1022.70" y="1243.40" width="245.50" height="2.00" fill="#000"/></svg>
<svg style="position:absolute;left:0;top:0;overflow:visible" width="1" height="1"><rect x="1113.40" y="1638.90" width="154.80" height="2.00" fill="#000"/></svg>
<div style="position:absolute;top:1086.45px;font-family:'Liberation Sans',sans-serif;font-size:27px;line-height:27px;font-weight:400;color:#000;white-space:pre;transform:scaleY(1.04);transform-origin:0 84.65%;-webkit-text-stroke:0.25px #000;left:1282.50px;">Fabric A</div>
<div style="position:absolute;top:1230.45px;font-family:'Liberation Sans',sans-serif;font-size:27px;line-height:27px;font-weight:400;color:#000;white-space:pre;transform:scaleY(1.04);transform-origin:0 84.65%;-webkit-text-stroke:0.25px #000;left:1282.50px;">Fabric B</div>
<div style="position:absolute;top:1625.15px;font-family:'Liberation Sans',sans-serif;font-size:27px;line-height:27px;font-weight:400;color:#000;white-space:pre;transform:scaleY(1.04);transform-origin:0 84.65%;-webkit-text-stroke:0.25px #000;left:1282.50px;">Fabric C</div>
<svg style="position:absolute;left:0;top:0;overflow:visible" width="1" height="1"><rect x="0.00" y="1847.40" width="1445.00" height="195.60" fill="#d3d3d3"/></svg>
<div style="position:absolute;top:1923.43px;font-family:'Liberation Sans',sans-serif;font-size:24.2px;line-height:24.2px;font-weight:400;color:#1010d2;white-space:pre;transform:scaleY(1.04);transform-origin:0 84.65%;-webkit-text-stroke:0.25px #1010d2;left:128.50px;"><a>www.folklorestitches.com</a></div>
<div style="position:absolute;top:1923.43px;font-family:'Liberation Sans',sans-serif;font-size:24.2px;line-height:24.2px;font-weight:400;color:#1010d2;white-space:pre;transform:scaleY(1.04);transform-origin:0 84.65%;-webkit-text-stroke:0.25px #1010d2;left:498.10px;"><a>@folklorestitches</a></div>
<div style="position:absolute;top:1923.43px;font-family:'Liberation Sans',sans-serif;font-size:24.2px;line-height:24.2px;font-weight:400;color:#1010d2;white-space:pre;transform:scaleY(1.04);transform-origin:0 84.65%;-webkit-text-stroke:0.25px #1010d2;left:780.00px;"><a>#RiverWalkQuilt</a></div>
<div style="position:absolute;top:1923.43px;font-family:'Liberation Sans',sans-serif;font-size:24.2px;line-height:24.2px;font-weight:400;color:#1010d2;white-space:pre;transform:scaleY(1.04);transform-origin:0 84.65%;-webkit-text-stroke:0.25px #1010d2;left:1035.80px;"><a>#FolkloreStitchesStudio</a></div>
</body></html>
